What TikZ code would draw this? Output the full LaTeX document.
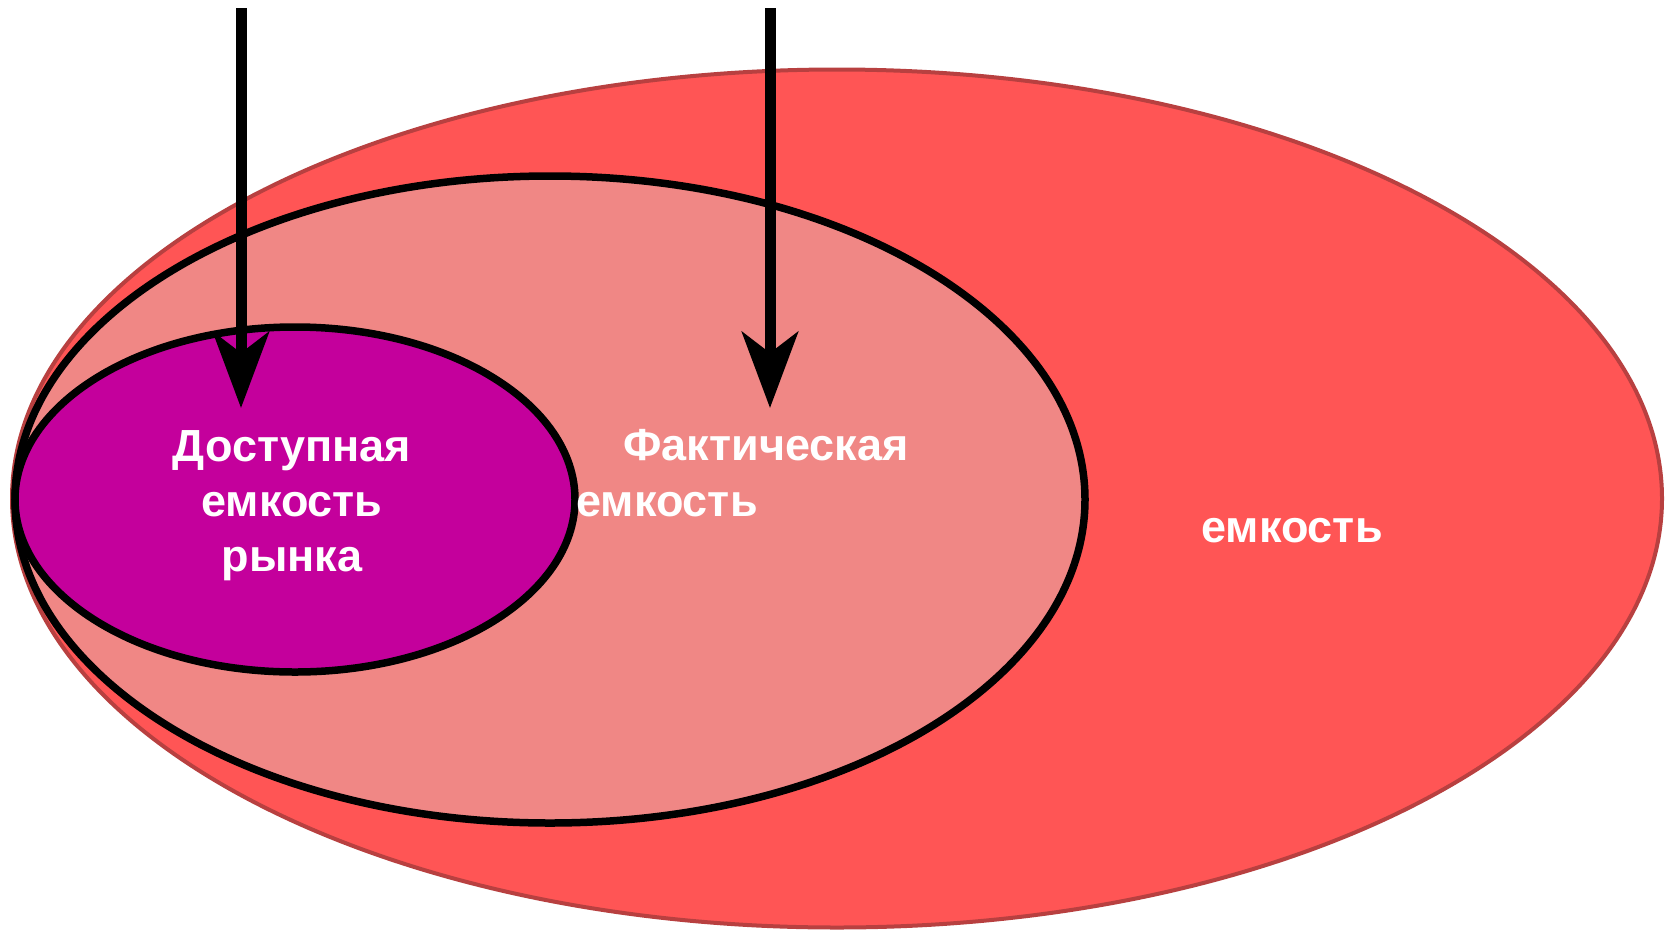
\documentclass[tikz,border=0pt]{standalone}
\usepackage{fontspec}
\setmainfont{Liberation Sans}
\usetikzlibrary{shapes.geometric,arrows.meta}
\definecolor{bigfill}{HTML}{FF5555}
\definecolor{bigline}{HTML}{B84040}
\definecolor{midfill}{HTML}{F08785}
\definecolor{smallfill}{HTML}{C4009C}
\tikzset{
  oval/.style={ellipse, inner sep=0pt, outer sep=0pt},
  bigoval/.style={oval, fill=bigfill, draw=bigline, line width=4pt},
  inoval/.style={oval, draw=black, line width=7.5pt},
  pointer/.style={line width=11pt, draw=black,
    -{Stealth[length=76pt, width=56pt, inset=21pt]}},
  lbl/.style={text=white, font=\fontsize{45}{49}\selectfont\bfseries,
    inner sep=0pt, anchor=base}
}
\begin{document}
\begin{tikzpicture}[x=1pt, y=-1pt]
  \useasboundingbox (0,0) rectangle (1672,932);
  \node[bigoval, minimum width=1650pt, minimum height=858pt] (big) at (837,498.5) {};
  \node[inoval, fill=midfill, minimum width=1070pt, minimum height=647pt] (mid) at (550,499.5) {};
  \node[inoval, fill=smallfill, minimum width=560pt, minimum height=345pt] (small) at (295,499.5) {};
  \coordinate (s1) at (241,8);
  \coordinate (e1) at (241,408);
  \coordinate (s2) at (770,8);
  \coordinate (e2) at (770,408);
  \draw[pointer] (s1) -- (e1);
  \draw[pointer] (s2) -- (e2);
  \node[lbl] (t1) at (292,461) {Доступная};
  \node[lbl] (t2) at (292,516) {емкость};
  \node[lbl] (t3) at (292,571) {рынка};
  \node[lbl] (m1) at (766,460) {Фактическая};
  \node[lbl] (m2) at (667,516) {емкость};
  \node[lbl] (r1) at (1292,542) {емкость};
\end{tikzpicture}
\end{document}
